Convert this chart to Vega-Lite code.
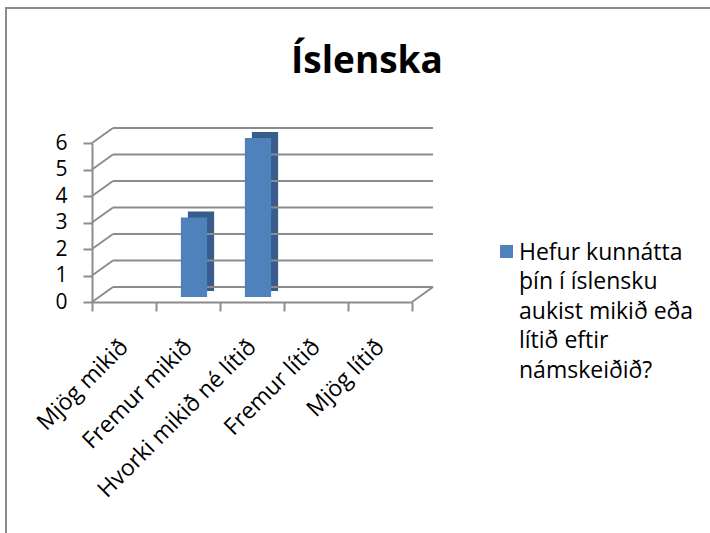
{
  "$schema": "https://vega.github.io/schema/vega-lite/v6.json",
  "width": 706,
  "height": 527,
  "autosize": "none",
  "padding": {"left": 6, "top": 8, "right": -2, "bottom": -2},
  "background": "white",
  "config": {
    "view": {"stroke": "#8c8c8c", "strokeWidth": 2},
    "font": "Open Sans",
    "style": {"guide-label": {"lineHeight": 29.5}}
  },
  "title": {
    "text": "Íslenska",
    "font": "Open Sans",
    "fontSize": 37,
    "fontWeight": "bold",
    "color": "#000000",
    "anchor": "middle",
    "frame": "group",
    "baseline": "alphabetic",
    "offset": -64,
    "dy": 38,
    "dx": 8
  },
  "datasets": {
    "main": [
      {"category": "Mjög mikið", "count": 0, "series": "Hefur kunnátta\nþín í íslensku\naukist mikið eða\nlítið eftir\nnámskeiðið?"},
      {"category": "Fremur mikið", "count": 3, "series": "Hefur kunnátta\nþín í íslensku\naukist mikið eða\nlítið eftir\nnámskeiðið?"},
      {"category": "Hvorki mikið né lítið", "count": 6, "series": "Hefur kunnátta\nþín í íslensku\naukist mikið eða\nlítið eftir\nnámskeiðið?"},
      {"category": "Fremur lítið", "count": 0, "series": "Hefur kunnátta\nþín í íslensku\naukist mikið eða\nlítið eftir\nnámskeiðið?"},
      {"category": "Mjög lítið", "count": 0, "series": "Hefur kunnátta\nþín í íslensku\naukist mikið eða\nlítið eftir\nnámskeiðið?"}
    ],
    "levels": [{"v": 0}, {"v": 1}, {"v": 2}, {"v": 3}, {"v": 4}, {"v": 5}, {"v": 6}],
    "floor": [{"v": 0}]
  },
  "layer": [
    {
      "data": {"name": "main"},
      "mark": {"type": "bar", "color": "#385d8a", "width": {"band": 0.41}, "xOffset": 13, "yOffset": -11, "y2Offset": -11},
      "encoding": {
        "x": {
          "field": "category",
          "type": "nominal",
          "sort": null,
          "scale": {
            "domain": ["Mjög mikið", "Fremur mikið", "Hvorki mikið né lítið", "Fremur lítið", "Mjög lítið"],
            "range": [86, 406],
            "paddingInner": 0,
            "paddingOuter": 0
          },
          "axis": {
            "orient": "bottom",
            "offset": -233,
            "title": null,
            "tickBand": "extent",
            "domainColor": "#8c8c8c",
            "domainWidth": 2,
            "tickColor": "#8c8c8c",
            "tickWidth": 2,
            "tickSize": 9,
            "labelAngle": -45,
            "labelAlign": "right",
            "labelBaseline": "middle",
            "labelPadding": 32,
            "labelFontSize": 23,
            "labelLineHeight": 23,
            "labelColor": "#000000",
            "labelFont": "Open Sans",
            "labelLimit": 400
          }
        },
        "y": {
          "field": "count",
          "type": "quantitative",
          "scale": {"domain": [0, 6], "range": [294, 135], "nice": false, "zero": true},
          "axis": {
            "orient": "left",
            "offset": -86,
            "title": null,
            "grid": false,
            "format": "d",
            "values": [0, 1, 2, 3, 4, 5, 6],
            "domainColor": "#8c8c8c",
            "domainWidth": 2,
            "tickColor": "#8c8c8c",
            "tickWidth": 2,
            "tickSize": 9,
            "labelPadding": 16,
            "labelFontSize": 21,
            "labelLineHeight": 21,
            "labelColor": "#000000",
            "labelFont": "Open Sans"
          }
        }
      }
    },
    {
      "data": {"name": "levels"},
      "mark": {"type": "rule", "color": "#8c8c8c", "strokeWidth": 2, "xOffset": 21, "x2Offset": 21, "yOffset": -15},
      "encoding": {
        "x": {"datum": "Mjög mikið", "bandPosition": 0},
        "x2": {"datum": "Mjög lítið", "bandPosition": 1},
        "y": {"field": "v", "type": "quantitative"}
      }
    },
    {
      "data": {"name": "levels"},
      "mark": {"type": "rule", "color": "#8c8c8c", "strokeWidth": 2, "x2Offset": 21, "y2Offset": -15},
      "encoding": {
        "x": {"datum": "Mjög mikið", "bandPosition": 0},
        "x2": {"datum": "Mjög mikið", "bandPosition": 0},
        "y": {"field": "v", "type": "quantitative"},
        "y2": {"field": "v"}
      }
    },
    {
      "data": {"name": "floor"},
      "mark": {"type": "rule", "color": "#8c8c8c", "strokeWidth": 2, "x2Offset": 21, "y2Offset": -15},
      "encoding": {
        "x": {"datum": "Mjög lítið", "bandPosition": 1},
        "x2": {"datum": "Mjög lítið", "bandPosition": 1},
        "y": {"field": "v", "type": "quantitative"},
        "y2": {"field": "v"}
      }
    },
    {
      "data": {"name": "main"},
      "mark": {"type": "bar", "width": {"band": 0.41}, "xOffset": 6, "yOffset": -5, "y2Offset": -5},
      "encoding": {
        "x": {"field": "category", "type": "nominal", "sort": null},
        "y": {"field": "count", "type": "quantitative"},
        "color": {
          "field": "series",
          "type": "nominal",
          "scale": {"range": ["#4f81bd"]},
          "legend": {
            "title": null,
            "orient": "none",
            "legendX": 489,
            "legendY": 240,
            "padding": 0,
            "symbolType": "M-1,-2.23H1V-0.23H-1Z",
            "symbolSize": 169,
            "symbolStrokeWidth": 0,
            "labelFontSize": 23,
            "labelFont": "Open Sans",
            "labelColor": "#000000",
            "labelLimit": 300,
            "labelExpr": "split(datum.label, '\\n')",
            "labelBaseline": "alphabetic",
            "labelOffset": 1
          }
        }
      }
    }
  ]
}
